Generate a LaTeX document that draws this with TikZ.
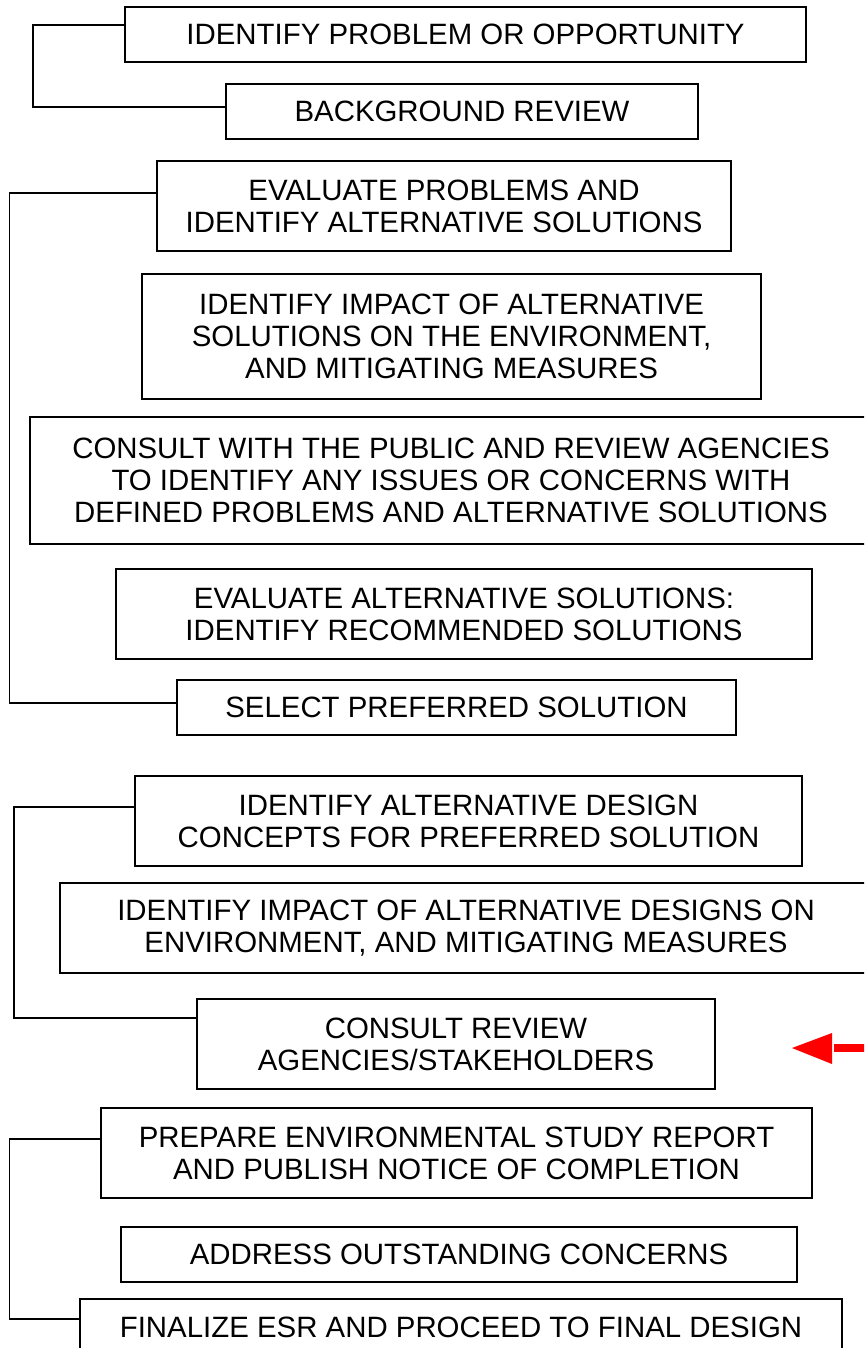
\documentclass[tikz,border=0pt]{standalone}
\usepackage{fontspec}
\setmainfont{Liberation Sans}
\begin{document}
\begin{tikzpicture}[x=1pt,y=-1pt,
  box/.style={draw=black, line width=1.6pt, rectangle, inner sep=0pt, align=center,
    font=\fontsize{29.4}{32}\selectfont},
  conn/.style={draw=black, line width=1.6pt}]
\useasboundingbox (0,0) rectangle (864,1348);
\clip (0,0) rectangle (864,1348);
\fill[white] (0,0) rectangle (864,1348);

\node[box, minimum width=681pt, minimum height=55pt] (n1) at (465.5,34.5) {IDENTIFY PROBLEM OR OPPORTUNITY};
\node[box, minimum width=472pt, minimum height=55pt] (n2) at (462,111.5) {BACKGROUND REVIEW};
\node[box, minimum width=574pt, minimum height=90pt] (n3) at (444,206) {EVALUATE PROBLEMS AND\\IDENTIFY ALTERNATIVE SOLUTIONS};
\node[box, minimum width=619pt, minimum height=125pt] (n4) at (451.5,336.5) {IDENTIFY IMPACT OF ALTERNATIVE\\SOLUTIONS ON THE ENVIRONMENT,\\AND MITIGATING MEASURES};
\node[box, minimum width=842pt, minimum height=127pt] (n5) at (451,480.5) {CONSULT WITH THE PUBLIC AND REVIEW AGENCIES\\TO IDENTIFY ANY ISSUES OR CONCERNS WITH\\DEFINED PROBLEMS AND ALTERNATIVE SOLUTIONS};
\node[box, minimum width=696pt, minimum height=90pt] (n6) at (464,614) {EVALUATE ALTERNATIVE SOLUTIONS:\\IDENTIFY RECOMMENDED SOLUTIONS};
\node[box, minimum width=559pt, minimum height=55pt] (n7) at (456.5,707.5) {SELECT PREFERRED SOLUTION};
\node[box, minimum width=667pt, minimum height=90pt] (n8) at (468.5,821) {IDENTIFY ALTERNATIVE DESIGN\\CONCEPTS FOR PREFERRED SOLUTION};
\node[box, minimum width=812pt, minimum height=90pt] (n9) at (466,928) {IDENTIFY IMPACT OF ALTERNATIVE DESIGNS ON\\ENVIRONMENT, AND MITIGATING MEASURES};
\node[box, minimum width=518pt, minimum height=90pt] (n10) at (456,1044) {CONSULT REVIEW\\AGENCIES/STAKEHOLDERS};
\node[box, minimum width=711pt, minimum height=90pt] (n11) at (456.5,1153) {PREPARE ENVIRONMENTAL STUDY REPORT\\AND PUBLISH NOTICE OF COMPLETION};
\node[box, minimum width=676pt, minimum height=55pt] (n12) at (459,1254.5) {ADDRESS OUTSTANDING CONCERNS};
\node[box, minimum width=762pt, minimum height=56pt] (n13) at (461,1327) {FINALIZE ESR AND PROCEED TO FINAL DESIGN};

% brackets
\coordinate (k1) at (33,25);   \coordinate (k2) at (33,107);
\coordinate (k3) at (9.5,193); \coordinate (k4) at (9.5,703);
\coordinate (k5) at (14,807);  \coordinate (k6) at (14,1018);
\coordinate (k7) at (9.5,1139);\coordinate (k8) at (9.5,1319);
\draw[conn] (n1.west |- k1) -- (k1) -- (k2) -- (n2.west |- k2);
\draw[conn] (n3.west |- k3) -- (k3) -- (k4) -- (n7.west |- k4);
\draw[conn] (n8.west |- k5) -- (k5) -- (k6) -- (n10.west |- k6);
\draw[conn] (n11.west |- k7) -- (k7) -- (k8) -- (n13.west |- k8);

% red arrow
\coordinate (tip) at (792,1048);
\fill[red] (tip) -- (832,1033) -- (832,1064) -- cycle;
\fill[red] (834,1044) rectangle (870,1052);
\end{tikzpicture}
\end{document}
